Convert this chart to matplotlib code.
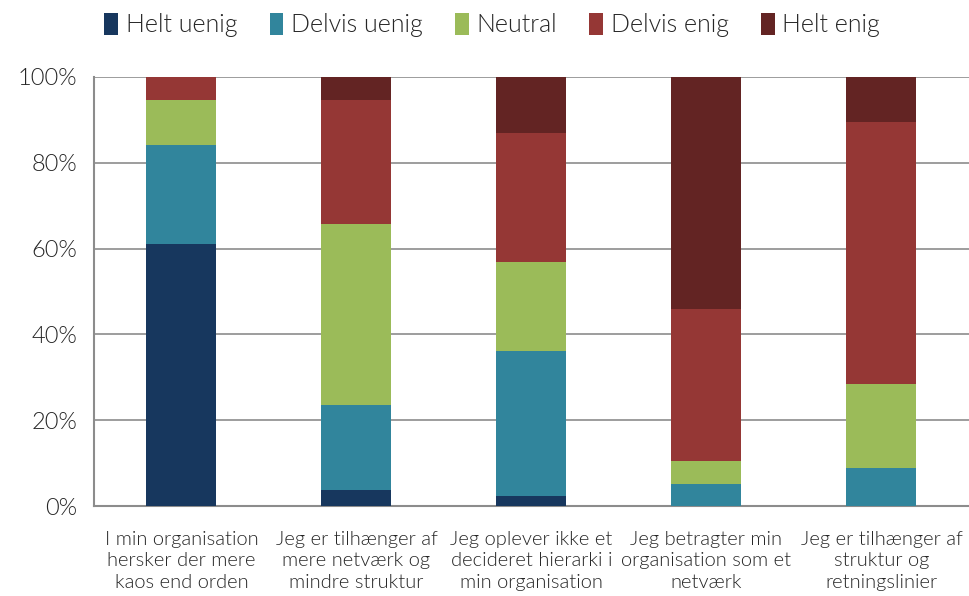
import matplotlib.pyplot as plt
import numpy as np

categories = ["I min organisation\nhersker der mere\nkaos end orden",
              "Jeg er tilhænger af\nmere netværk og\nmindre struktur",
              "Jeg oplever ikke et\ndecideret hierarki i\nmin organisation",
              "Jeg betragter min\norganisation som et\nnetværk",
              "Jeg er tilhænger af\nstruktur og\nretningslinier"]
series_names = ["Helt uenig", "Delvis uenig", "Neutral", "Delvis enig", "Helt enig"]
helt_uenig = [61.0, 3.7, 2.3, 0.0, 0.0]
delvis_uenig = [23.1, 19.8, 33.8, 5.1, 8.9]
neutral = [10.5, 42.2, 20.8, 5.4, 19.5]
delvis_enig = [5.4, 28.9, 30.0, 35.4, 61.1]
helt_enig = [0.0, 5.4, 13.1, 54.1, 10.5]
colors = ["#17375E", "#31859C", "#9BBB59", "#953735", "#632423"]

plt.rcParams['font.family'] = ['Lato', 'DejaVu Sans']
plt.rcParams['font.weight'] = 300

fig = plt.figure(figsize=(9.69, 5.96), dpi=100)
ax = fig.add_axes([0.097, 0.151, 0.903, 0.720])

x = np.arange(len(categories))
bottom = np.zeros(len(categories))
handles = []
for name, vals, c in zip(series_names, [helt_uenig, delvis_uenig, neutral, delvis_enig, helt_enig], colors):
    b = ax.bar(x, vals, width=0.4, bottom=bottom, color=c, label=name, zorder=3)
    handles.append(b)
    bottom += np.array(vals)

ax.set_xlim(-0.5, 4.5)
ax.set_ylim(0, 100)
ax.set_yticks([0, 20, 40, 60, 80, 100])
ax.set_yticklabels([f"{v}%" for v in range(0, 101, 20)], fontsize=17, fontweight=300, color='#262626')
ax.set_xticks(x)
ax.set_xticklabels(categories, fontsize=14.5, fontweight=300, color='#262626', linespacing=1.32)
ax.tick_params(axis='both', length=0)
ax.tick_params(axis='x', pad=18)
ax.tick_params(axis='y', pad=12)
ax.grid(axis='y', color='#8c8c8c', linewidth=1.2, zorder=0)
for s in ['top', 'right']:
    ax.spines[s].set_visible(False)
for s in ['left', 'bottom']:
    ax.spines[s].set_color('#8c8c8c')
    ax.spines[s].set_linewidth(1.5)

fig.legend(handles=handles, labels=series_names, loc='center', bbox_to_anchor=(0.508, 0.958),
           ncol=5, frameon=False, prop={'size': 18, 'weight': 300}, labelcolor='#262626',
           handlelength=0.55, handleheight=1.0, handletextpad=0.3, columnspacing=1.3)

fig.savefig("out.png", dpi=100)
